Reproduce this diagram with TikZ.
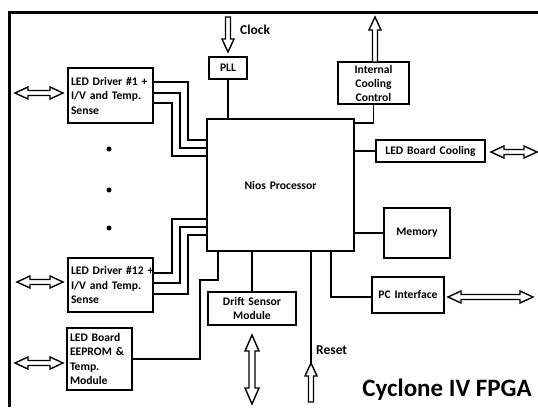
\documentclass[tikz,border=0pt]{standalone}
\usepackage{fontspec}
\setmainfont{Carlito}
\usetikzlibrary{calc}
\tikzset{
  blk/.style={draw,line width=1.8pt,inner ysep=0pt,inner xsep=3pt,font=\bfseries\fontsize{11.6}{14.5}\selectfont,align=left},
  wire/.style={line width=1.8pt},
  hol/.style={draw,line width=1.4pt,line join=miter,fill=white},
  lbl/.style={font=\bfseries\fontsize{13.5}{15}\selectfont,inner sep=0pt}
}
% horizontal hollow double arrow: x1, x2, y
\newcommand\HollowDbl[3]{%
  \path[hol] (#1,#3) -- ({#1+13},{#3-6}) -- ({#1+13},{#3-2.5}) -- ({#2-13},{#3-2.5}) -- ({#2-13},{#3-6}) -- (#2,#3)
   -- ({#2-13},{#3+6}) -- ({#2-13},{#3+2.5}) -- ({#1+13},{#3+2.5}) -- ({#1+13},{#3+6}) -- cycle;}
% vertical hollow double arrow: x, y1, y2
\newcommand\HollowVDbl[3]{%
  \path[hol] (#1,#2) -- ({#1-7},{#2+16}) -- ({#1-3},{#2+16}) -- ({#1-3},{#3-16}) -- ({#1-7},{#3-16}) -- (#1,#3)
   -- ({#1+7},{#3-16}) -- ({#1+3},{#3-16}) -- ({#1+3},{#2+16}) -- ({#1+7},{#2+16}) -- cycle;}
% vertical hollow single arrow: x, tail y, tip y, dir (+1 down, -1 up)
\newcommand\HollowV[4]{%
  \path[hol] ({#1-2.5},#2) -- ({#1-2.5},{#3-#4*13}) -- ({#1-6},{#3-#4*13}) -- (#1,#3) -- ({#1+6},{#3-#4*13})
   -- ({#1+2.5},{#3-#4*13}) -- ({#1+2.5},#2) -- cycle;}
\begin{document}
\begin{tikzpicture}[x=1pt,y=-1pt]
\useasboundingbox (0,0) rectangle (538,407);
% frame
\draw[line width=3pt] (9,407) -- (9,12) -- (540,12);

% blocks
\node[blk,minimum width=147,minimum height=132,align=center,text width=141] (nios) at (280.5,185) {Nios Processor};
\node[blk,minimum height=55,text width=79] (drv1) at (110.5,95.5) {\mbox{LED Driver \#1 +}\\I/V and Temp.\\Sense};
\node[blk,minimum height=54,text width=79] (drv12) at (110.5,285) {\mbox{LED Driver \#12 +}\\I/V and Temp.\\Sense};
\node[blk,minimum height=62,text width=59] (eep) at (99.5,359) {LED Board\\EEPROM \&\\Temp.\\Module};
\node[blk,minimum height=22,text width=32,align=center] (pll) at (228,68) {PLL};
\node[blk,minimum height=42,text width=65,align=center,font=\bfseries\fontsize{11.6}{14}\selectfont] (icc) at (373.5,83) {Internal\\Cooling\\Control};
\node[blk,minimum height=22,text width=103,align=center] (lbc) at (430.5,151) {LED Board Cooling};
\node[blk,minimum height=50,text width=60,align=center] (mem) at (417,233) {Memory};
\node[blk,minimum height=36,text width=66,align=center] (pc) at (408,295) {PC Interface};
\node[blk,minimum height=33,text width=82,align=center] (drift) at (252,308.5) {Drift Sensor\\Module};

% labels
\node[lbl,anchor=west] (clk) at (240,30) {Clock};
\node[lbl,anchor=west] (rst) at (316,350) {Reset};
\node[inner sep=0pt,anchor=east,font=\bfseries\fontsize{25}{28}\selectfont] (title) at (532,390) {Cyclone IV FPGA};

% dots
\foreach \yy/\nm in {149/d1,190/d2,228/d3}
  \node[circle,fill,inner sep=0pt,minimum size=5] (\nm) at (109,\yy) {};

% coordinates on processor
\coordinate (pllin) at (pll.south |- nios.north);
\coordinate (iccp) at (nios.east |- 0,123);
\coordinate (icc1) at (icc.south |- 0,123);

% connectors
\draw[wire] (pll.south) -- (pllin);
\draw[wire] (icc.south) -- (icc1) -- (iccp);
\draw[wire] (nios.east |- lbc.west) -- (lbc.west);
\draw[wire] (nios.east |- mem.west) -- (mem.west);
\draw[wire] (331,251) -- (331,297) -- (pc.west |- 0,297);
\draw[wire] (drift.north |- nios.south) -- (drift.north);
\draw[wire] (311,251) coordinate (rs) -- (311,363);
\draw[wire] (eep.east |- 0,359) -- (200,359) -- (200,280) -- (218,280) -- (218,251);

% LED driver #1 bus
\draw[wire] (drv1.east |- 0,82) -- (188,82) -- (188,140) -- (nios.west |- 0,140);
\draw[wire] (drv1.east |- 0,93) -- (180,93) -- (180,148) -- (nios.west |- 0,148);
\draw[wire] (drv1.east |- 0,103) -- (172,103) -- (172,156) -- (nios.west |- 0,156);
% LED driver #12 bus
\draw[wire] (drv12.east |- 0,273) -- (172,273) -- (172,219) -- (nios.west |- 0,219);
\draw[wire] (drv12.east |- 0,283) -- (180,283) -- (180,227) -- (nios.west |- 0,227);
\draw[wire] (drv12.east |- 0,294) -- (188,294) -- (188,235) -- (nios.west |- 0,235);

% hollow arrows
\HollowV{228}{17}{52}{1}
\HollowV{375}{62}{17}{-1}
\HollowV{311}{402}{363}{-1}
\HollowDbl{15}{63}{93}
\HollowDbl{17}{63}{282}
\HollowDbl{15}{63}{363}
\HollowDbl{491}{537}{152}
\HollowDbl{448}{533}{297}
\HollowVDbl{252}{335}{404}
\end{tikzpicture}
\end{document}
